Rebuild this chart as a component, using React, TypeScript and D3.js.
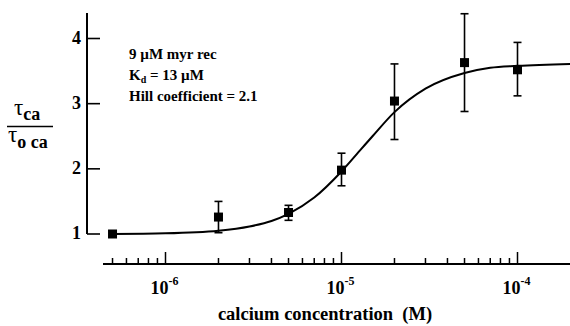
import * as React from 'react'
import { useEffect, useRef } from 'react'
import * as d3 from 'd3'

// measured points (calcium concentration in M, ratio, error bar low/high)
const concentrations = [5e-7, 2e-6, 5e-6, 1e-5, 2e-5, 5e-5, 1e-4]
const ratios = [1.0, 1.26, 1.33, 1.98, 3.04, 3.63, 3.52]
const errLow = [1.0, 1.02, 1.21, 1.74, 2.45, 2.88, 3.12]
const errHigh = [1.0, 1.5, 1.44, 2.24, 3.61, 4.38, 3.94]

// fitted curve
const fitX = [5e-7, 1e-6, 2e-6, 3e-6, 4e-6, 5e-6, 7e-6, 1e-5, 1.3e-5, 1.5e-5, 2e-5, 3e-5, 5e-5, 7e-5, 1e-4, 2e-4]
const fitY = [1.0, 1.01, 1.05, 1.115, 1.2, 1.31, 1.56, 1.96, 2.31, 2.5, 2.87, 3.23, 3.47, 3.55, 3.58, 3.61]

const yTicks = [1, 2, 3, 4]
const xMajor = [-6, -5, -4]
const annotations = ['9 \u00b5M myr rec', 'Kd = 13 \u00b5M', 'Hill coefficient = 2.1']

const W = 570
const H = 326
const FONT = "'Liberation Serif', 'Times New Roman', 'DejaVu Serif', serif"

export default function App() {
  const svgRef = useRef<SVGSVGElement>(null)

  useEffect(() => {
    if (!svgRef.current) return
    const svg = d3.select(svgRef.current)
    svg.selectAll('*').remove()

    const x = d3.scaleLog().domain([1e-6, 1e-4]).range([165.5, 517.5])
    const y = d3.scaleLinear().domain([1, 4]).range([234, 38.5])

    const axisX0 = 87
    const axisY = 264

    // y axis
    svg.append('line')
      .attr('x1', axisX0).attr('x2', axisX0)
      .attr('y1', 13).attr('y2', y(1))
      .attr('stroke', '#000').attr('stroke-width', 2)

    const yt = svg.append('g')
    yt.selectAll('line').data(yTicks).join('line')
      .attr('x1', axisX0).attr('x2', axisX0 + 13)
      .attr('y1', d => y(d)).attr('y2', d => y(d))
      .attr('stroke', '#000').attr('stroke-width', 1.6)
    yt.selectAll('text').data(yTicks).join('text')
      .attr('x', 81).attr('y', d => y(d) + 5)
      .attr('text-anchor', 'end')
      .style('font-family', FONT).attr('font-weight', 'bold').attr('font-size', 18)
      .text(d => d)

    // x axis
    svg.append('line')
      .attr('x1', 103).attr('x2', W)
      .attr('y1', axisY).attr('y2', axisY)
      .attr('stroke', '#000').attr('stroke-width', 2)

    const ticks: { v: number; major: boolean }[] = []
    for (let e = -7; e <= -4; e++) {
      for (let m = 1; m <= 9; m++) {
        const v = m * Math.pow(10, e)
        const px = x(v)
        if (px < 108 || px > W) continue
        ticks.push({ v, major: m === 1 })
      }
    }
    svg.append('g').selectAll('line').data(ticks).join('line')
      .attr('x1', d => x(d.v)).attr('x2', d => x(d.v))
      .attr('y1', axisY).attr('y2', d => axisY - (d.major ? 12 : 6))
      .attr('stroke', '#000').attr('stroke-width', 1.5)

    const xl = svg.append('g').selectAll('text').data(xMajor).join('text')
      .attr('x', d => x(Math.pow(10, d)) - 15).attr('y', 294)
      .style('font-family', FONT).attr('font-weight', 'bold').attr('font-size', 18)
    xl.append('tspan').text('10')
    xl.append('tspan').attr('dy', -9).attr('font-size', 12).text(d => `${d}`)

    svg.append('text')
      .attr('x', 325).attr('y', 320)
      .attr('text-anchor', 'middle')
      .style('font-family', FONT).attr('font-weight', 'bold').attr('font-size', 18.5)
      .style('white-space', 'pre')
      .text('calcium concentration  (M)')

    // y label as a fraction
    const lab = svg.append('g').style('font-family', FONT)
    const num = lab.append('text').attr('x', 14).attr('y', 115).attr('font-size', 23)
    num.append('tspan').text('\u03c4')
    num.append('tspan').attr('font-weight', 'bold').attr('font-size', 18).attr('dy', 5).text('ca')
    lab.append('line')
      .attr('x1', 7).attr('x2', 53).attr('y1', 126.5).attr('y2', 126.5)
      .attr('stroke', '#000').attr('stroke-width', 1.6)
    const den = lab.append('text').attr('x', 8).attr('y', 141.5).attr('font-size', 23)
    den.append('tspan').text('\u03c4')
    den.append('tspan').attr('font-weight', 'bold').attr('font-size', 18).attr('dy', 6).text('o ca')

    // annotation
    const ann = svg.append('g')
      .style('font-family', FONT).attr('font-weight', 'bold').attr('font-size', 15)
    annotations.forEach((t, i) => {
      const el = ann.append('text').attr('x', 129).attr('y', 59 + i * 21)
      if (t.startsWith('Kd')) {
        el.append('tspan').text('K')
        el.append('tspan').attr('font-size', 10).attr('dy', 3).text('d')
        el.append('tspan').attr('dy', -3).text(t.slice(2))
      } else {
        el.text(t)
      }
    })

    // fitted curve
    const line = d3.line<number>()
      .x((_, i) => x(fitX[i]))
      .y(d => y(d))
      .curve(d3.curveMonotoneX)
    svg.append('path')
      .attr('d', line(fitY) || '')
      .attr('fill', 'none').attr('stroke', '#000').attr('stroke-width', 2)

    // error bars
    const eb = svg.append('g').attr('stroke', '#000').attr('stroke-width', 1.6)
    concentrations.forEach((c, i) => {
      if (errHigh[i] - errLow[i] < 0.01) return
      const cx = x(c)
      eb.append('line').attr('x1', cx).attr('x2', cx).attr('y1', y(errLow[i])).attr('y2', y(errHigh[i]))
      eb.append('line').attr('x1', cx - 4).attr('x2', cx + 4).attr('y1', y(errLow[i])).attr('y2', y(errLow[i]))
      eb.append('line').attr('x1', cx - 4).attr('x2', cx + 4).attr('y1', y(errHigh[i])).attr('y2', y(errHigh[i]))
    })

    // markers
    const s = 9
    svg.append('g').selectAll('rect').data(concentrations).join('rect')
      .attr('x', d => x(d) - s / 2)
      .attr('y', (_, i) => y(ratios[i]) - s / 2)
      .attr('width', s).attr('height', s)
      .attr('fill', '#000')
  }, [])

  return (
    <svg
      ref={svgRef}
      width={W}
      height={H}
      style={{ position: 'absolute', left: 0, top: 0, background: '#fff' }}
    />
  )
}
